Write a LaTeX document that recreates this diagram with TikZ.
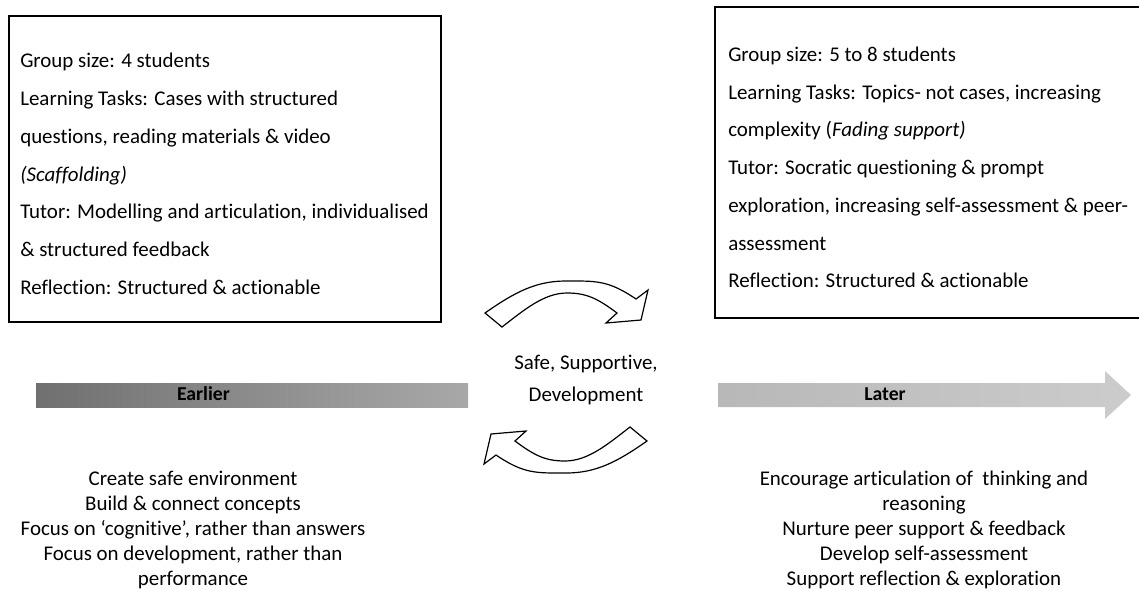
\documentclass[tikz,border=0pt]{standalone}
\usepackage{fontspec}
\setmainfont{Carlito}[RawFeature={-liga;-clig;-calt}]
\usetikzlibrary{calc}
\def\boxfont{\fontsize{15.7}{28.3}\selectfont}
\def\listfont{\fontsize{15.7}{18.9}\selectfont}
\tikzset{
  panel/.style={draw, line width=1.2pt},
  paneltext/.style={anchor=west, align=left, inner sep=0pt, font=\boxfont},
  listtext/.style={align=center, inner sep=0pt, font=\listfont},
  stagelabel/.style={inner sep=0pt, font=\fontsize{14.8}{17}\selectfont\bfseries},
  turnarrow/.style={draw, fill=white, line width=0.9pt, line join=miter}
}

\begin{document}
\begin{tikzpicture}[x=0.75pt, y=-0.75pt]
			%%%%% START %%%%%
			\useasboundingbox (0, 0) rectangle (1139, 590);
			
			% the two stage boxes
			\draw[panel] (9, 16) rectangle (441, 322);
			\draw[panel] (715, 7) rectangle (1150, 318);
			
			\node[paneltext] (early) at (20, 174) {Group size: 4 students\\
				Learning Tasks: Cases with structured\\
				questions, reading materials \& video\\
				\textit{(Scaffolding)}\\
				Tutor: Modelling and articulation, individualised\\
				\& structured feedback\\
				Reflection: Structured \& actionable};
			
			\node[paneltext] (late) at (728, 167.5) {Group size: 5 to 8 students\\
				Learning Tasks: Topics- not cases, increasing\\
				complexity (\textit{Fading support)}\\
				Tutor: Socratic questioning \& prompt\\
				exploration, increasing self-assessment \& peer-\\
				assessment\\
				Reflection: Structured \& actionable};
			
			% time line
			\shade[left color=black!56, right color=black!34] (36, 383) rectangle (468, 407);
			\shade[left color=black!28, right color=black!20] (718, 383) -- (1105, 383) -- (1105, 371)
				-- (1131, 395) -- (1105, 419) -- (1105, 407) -- (718, 407) -- cycle;
			\node[stagelabel] (earlier) at (203.5, 394) {Earlier};
			\node[stagelabel] (later) at (885, 394) {Later};
			
			% cycle arrows, the lower one is the upper one turned round
			\foreach \turn in {0, 180} {
				\draw[turnarrow, rotate around={\turn:(566, 377)}]
					(485, 313) .. controls (515, 292) and (536, 281) .. (566, 281)
					.. controls (596, 281) and (608, 280) .. (636, 299)
					-- (648, 290) -- (641, 320) -- (606, 323) -- (617, 313)
					.. controls (597, 298) and (586, 293) .. (567, 293)
					.. controls (544, 293) and (524, 310) .. (502, 327) -- cycle;
			}
			\node[align=center, inner sep=0pt, font=\fontsize{15.7}{24}\selectfont] (centre) at (586, 380) {Safe, Supportive,\\ Development};
			
			% what the tutor does at each stage
			\node[listtext] (earlylist) at (193, 530) {Create safe environment\\
				Build \& connect concepts\\
				Focus on ‘cognitive’, rather than answers\\
				Focus on development, rather than\\
				performance};
			\node[listtext] (latelist) at (924, 530) {Encourage articulation of \ thinking and\\
				reasoning\\
				Nurture peer support \& feedback\\
				Develop self-assessment\\
				Support reflection \& exploration};
			%%%%% END %%%%%
\end{tikzpicture}
\end{document}
